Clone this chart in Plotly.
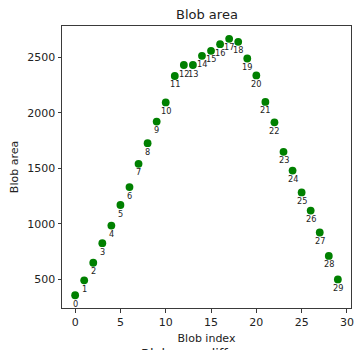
import plotly.graph_objects as go

# Blob areas per blob index
blob_index = list(range(30))
blob_area = [355, 490, 648, 825, 984, 1169, 1331, 1541, 1727, 1922,
             2095, 2333, 2432, 2432, 2515, 2560, 2620, 2668, 2641, 2491,
             2338, 2099, 1915, 1649, 1480, 1283, 1119, 921, 710, 498]
x_ticks = [0, 5, 10, 15, 20, 25, 30]
y_ticks = [500, 1000, 1500, 2000, 2500]

FONT = "DejaVu Sans"
TXT = "#222222"
AX = "#3a3a3a"

fig = go.Figure()
fig.add_trace(go.Scatter(
    x=blob_index, y=blob_area, mode="markers",
    marker=dict(color="#008000", size=7.8, line=dict(width=0)),
    showlegend=False, hoverinfo="skip",
))

# index labels under each blob
for i, a in zip(blob_index, blob_area):
    fig.add_annotation(x=i, y=a, text=str(i), showarrow=False,
                       xanchor="center", yanchor="middle", yshift=-8.5,
                       font=dict(family=FONT, size=8.2, color=TXT))

fig.add_annotation(xref="paper", yref="paper", x=0.5, y=1, yanchor="bottom",
                   yshift=2, text="Blob area", showarrow=False,
                   font=dict(family=FONT, size=13, color=TXT))
fig.add_annotation(xref="paper", yref="paper", x=0.5, y=0, yanchor="top",
                   yshift=-36, text="Blob area difference", showarrow=False,
                   font=dict(family=FONT, size=13, color=TXT))

axis_common = dict(
    showline=True, linecolor=AX, linewidth=1, mirror=True,
    showgrid=False, zeroline=False,
    ticks="outside", ticklen=3.5, tickwidth=1, tickcolor=AX,
    tickfont=dict(family=FONT, size=11, color=TXT),
)

fig.update_layout(
    width=357, height=350,
    margin=dict(l=62, r=3, t=26, b=42),
    paper_bgcolor="white", plot_bgcolor="white",
    xaxis=dict(range=[-1.45, 30.45], tickvals=x_ticks,
               title=dict(text="Blob index", standoff=6,
                          font=dict(family=FONT, size=11, color=TXT)),
               **axis_common),
    yaxis=dict(range=[240, 2784], tickvals=y_ticks,
               title=dict(text="Blob area", standoff=6,
                          font=dict(family=FONT, size=11, color=TXT)),
               **axis_common),
)

fig.write_html("out.html")
